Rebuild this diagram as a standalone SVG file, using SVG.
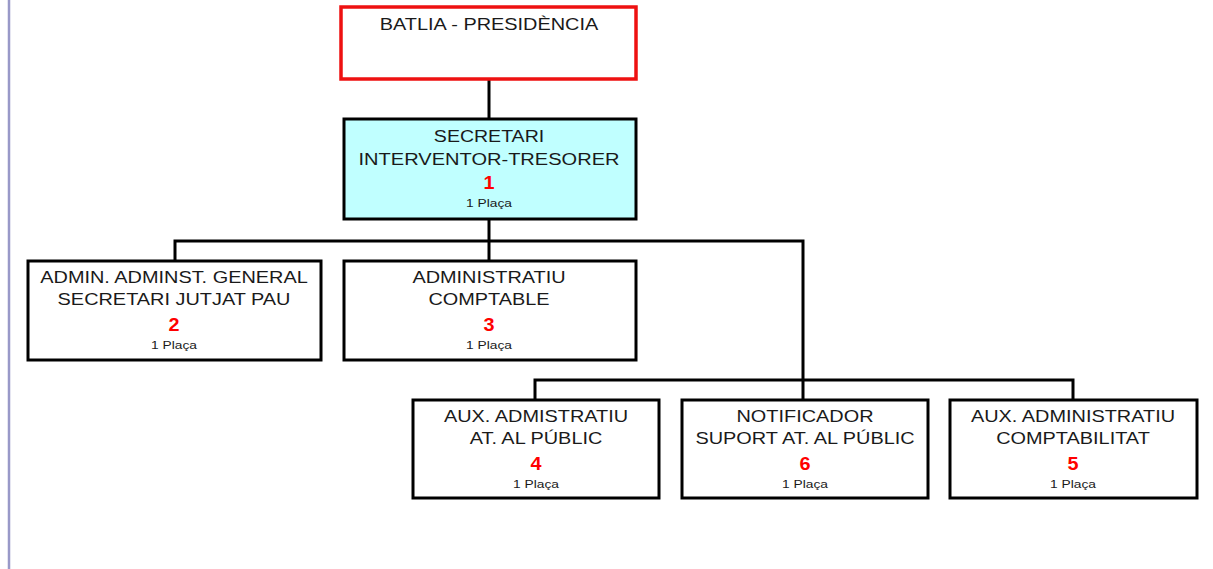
<svg xmlns="http://www.w3.org/2000/svg" width="1213" height="569" viewBox="0 0 1213 569">
<style>
.box{fill:#ffffff;stroke:#000;stroke-width:3}
.top{fill:#ffffff;stroke:#ee1111;stroke-width:3.5}
.sec{fill:#c0ffff;stroke:#000;stroke-width:3}
.t{font-family:"Liberation Sans",Arial,sans-serif;font-size:17px;fill:#1a1a1a;text-anchor:middle}
.n{font-family:"Liberation Sans",Arial,sans-serif;font-size:18px;font-weight:bold;fill:#ff0000;text-anchor:middle}
.p{font-family:"Liberation Sans",Arial,sans-serif;font-size:11px;fill:#1a1a1a;text-anchor:middle}
.c{fill:none;stroke:#000;stroke-width:3}
</style>
<rect x="0" y="0" width="1213" height="569" fill="#ffffff"/>
<line x1="9" y1="0" x2="9" y2="569" stroke="#9999c8" stroke-width="2.5"/>
<g id="connectors">
<line class="c" x1="489" y1="80" x2="489" y2="118"/>
<line class="c" x1="489" y1="219" x2="489" y2="260"/>
<polyline class="c" points="175,260 175,241 803,241 803,399"/>
<polyline class="c" points="535,399 535,380 1073,380 1073,399"/>
</g>
<g id="n0">
<rect class="top" x="341" y="7" width="295" height="72"/>
<text class="t" transform="translate(489,30) scale(1.17,1)">BATLIA - PRESIDÈNCIA</text>
</g>
<g id="n1">
<rect class="sec" x="344" y="119" width="292" height="100"/>
<text class="t" transform="translate(489,142) scale(1.15,1)">SECRETARI</text>
<text class="t" transform="translate(489,165) scale(1.18,1)">INTERVENTOR-TRESORER</text>
<text class="n" transform="translate(489,189) scale(1.1,1)">1</text>
<text class="p" transform="translate(489,207) scale(1.25,1)">1 Plaça</text>
</g>
<g id="n2">
<rect class="box" x="28" y="261" width="293" height="99"/>
<text class="t" transform="translate(174,283) scale(1.17,1)">ADMIN. ADMINST. GENERAL</text>
<text class="t" transform="translate(174,305) scale(1.17,1)">SECRETARI JUTJAT PAU</text>
<text class="n" transform="translate(174,331) scale(1.1,1)">2</text>
<text class="p" transform="translate(174,349) scale(1.25,1)">1 Plaça</text>
</g>
<g id="n3">
<rect class="box" x="344" y="261" width="292" height="99"/>
<text class="t" transform="translate(489,283) scale(1.17,1)">ADMINISTRATIU</text>
<text class="t" transform="translate(489,305) scale(1.17,1)">COMPTABLE</text>
<text class="n" transform="translate(489,331) scale(1.1,1)">3</text>
<text class="p" transform="translate(489,349) scale(1.25,1)">1 Plaça</text>
</g>
<g id="n4">
<rect class="box" x="413" y="400" width="246" height="98"/>
<text class="t" transform="translate(536,422) scale(1.17,1)">AUX. ADMISTRATIU</text>
<text class="t" transform="translate(536,444) scale(1.17,1)">AT. AL PÚBLIC</text>
<text class="n" transform="translate(536,470) scale(1.1,1)">4</text>
<text class="p" transform="translate(536,488) scale(1.25,1)">1 Plaça</text>
</g>
<g id="n6">
<rect class="box" x="682" y="400" width="246" height="98"/>
<text class="t" transform="translate(805,422) scale(1.17,1)">NOTIFICADOR</text>
<text class="t" transform="translate(805,444) scale(1.17,1)">SUPORT AT. AL PÚBLIC</text>
<text class="n" transform="translate(805,470) scale(1.1,1)">6</text>
<text class="p" transform="translate(805,488) scale(1.25,1)">1 Plaça</text>
</g>
<g id="n5">
<rect class="box" x="950" y="400" width="247" height="98"/>
<text class="t" transform="translate(1073,422) scale(1.17,1)">AUX. ADMINISTRATIU</text>
<text class="t" transform="translate(1073,444) scale(1.17,1)">COMPTABILITAT</text>
<text class="n" transform="translate(1073,470) scale(1.1,1)">5</text>
<text class="p" transform="translate(1073,488) scale(1.25,1)">1 Plaça</text>
</g>
</svg>
